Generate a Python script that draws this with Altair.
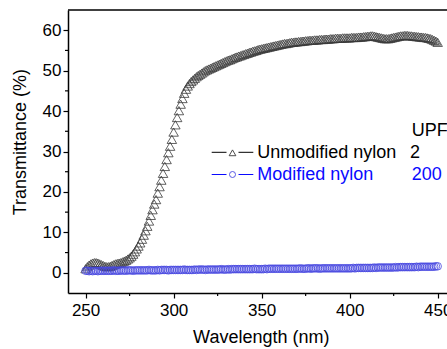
import altair as alt
import pandas as pd

# ---------------- data ----------------
wavelength = list(range(250, 451))

unmodified = [
    1.0, 1.5, 1.9, 2.2, 2.4, 2.5, 2.5, 2.4, 2.2, 2.0,
    1.8, 1.6, 1.5, 1.5, 1.6, 1.8, 2.0, 2.2, 2.3, 2.4,
    2.5, 2.7, 2.9, 3.1, 3.4, 3.7, 4.1, 4.6, 5.2, 5.9,
    6.6, 7.4, 8.3, 9.3, 10.4, 11.5, 12.8, 14.2, 15.6, 17.0,
    18.1, 19.7, 21.3, 22.9, 24.6, 26.3, 28.0, 29.7, 31.3, 33.0,
    34.8, 36.6, 38.4, 40.1, 41.7, 43.1, 44.4, 45.4, 46.2, 46.8,
    47.3, 47.7, 48.1, 48.5, 48.8, 49.1, 49.4, 49.7, 50.0, 50.2,
    50.4, 50.6, 50.8, 51.0, 51.2, 51.4, 51.6, 51.8, 52.0, 52.2,
    52.4, 52.6, 52.7, 52.9, 53.1, 53.3, 53.4, 53.6, 53.7, 53.9,
    54.0, 54.2, 54.3, 54.5, 54.6, 54.8, 54.9, 55.0, 55.2, 55.3,
    55.4, 55.5, 55.6, 55.7, 55.8, 55.9, 56.0, 56.1, 56.2, 56.3,
    56.4, 56.5, 56.6, 56.7, 56.7, 56.8, 56.9, 57.0, 57.0, 57.1,
    57.1, 57.2, 57.2, 57.3, 57.3, 57.4, 57.4, 57.5, 57.5, 57.5,
    57.6, 57.6, 57.6, 57.7, 57.7, 57.7, 57.8, 57.8, 57.8, 57.9,
    57.9, 57.9, 58.0, 58.0, 58.0, 58.0, 58.1, 58.1, 58.1, 58.1,
    58.1, 58.2, 58.2, 58.2, 58.2, 58.3, 58.3, 58.3, 58.4, 58.4,
    58.5, 58.5, 58.6, 58.6, 58.5, 58.4, 58.3, 58.2, 58.1, 58.0,
    57.9, 57.9, 57.9, 58.0, 58.1, 58.2, 58.3, 58.4, 58.5, 58.6,
    58.6, 58.7, 58.7, 58.7, 58.6, 58.6, 58.5, 58.5, 58.4, 58.4,
    58.3, 58.3, 58.2, 58.2, 58.1, 58.0, 57.9, 57.7, 57.5, 57.3,
    57.0,
]

modified = [
    0.5, 0.5, 0.4, 0.5, 0.4, 0.5, 0.5, 0.4, 0.5, 0.5,
    0.5, 0.5, 0.5, 0.5, 0.5, 0.5, 0.6, 0.5, 0.5, 0.5,
    0.6, 0.5, 0.6, 0.5, 0.6, 0.6, 0.6, 0.5, 0.6, 0.6,
    0.6, 0.6, 0.6, 0.6, 0.6, 0.6, 0.7, 0.6, 0.6, 0.6,
    0.6, 0.7, 0.6, 0.7, 0.7, 0.7, 0.7, 0.6, 0.7, 0.7,
    0.7, 0.7, 0.7, 0.7, 0.7, 0.7, 0.8, 0.7, 0.7, 0.7,
    0.7, 0.7, 0.8, 0.7, 0.8, 0.8, 0.8, 0.8, 0.7, 0.8,
    0.8, 0.8, 0.8, 0.8, 0.8, 0.8, 0.8, 0.9, 0.8, 0.8,
    0.8, 0.9, 0.8, 0.9, 0.9, 0.9, 0.9, 0.9, 0.9, 0.9,
    0.9, 0.9, 0.9, 0.9, 0.9, 0.9, 1.0, 0.9, 0.9, 0.9,
    0.9, 0.9, 1.0, 0.9, 1.0, 1.0, 1.0, 1.0, 1.0, 1.0,
    1.0, 1.0, 1.0, 1.0, 1.0, 1.0, 1.0, 1.0, 1.0, 1.0,
    1.0, 1.0, 1.1, 1.0, 1.0, 1.0, 1.1, 1.1, 1.0, 1.1,
    1.1, 1.1, 1.1, 1.0, 1.1, 1.1, 1.1, 1.1, 1.1, 1.1,
    1.1, 1.1, 1.1, 1.1, 1.1, 1.1, 1.1, 1.1, 1.1, 1.1,
    1.1, 1.1, 1.2, 1.1, 1.2, 1.2, 1.2, 1.2, 1.2, 1.2,
    1.2, 1.2, 1.2, 1.2, 1.3, 1.2, 1.3, 1.3, 1.3, 1.3,
    1.3, 1.3, 1.3, 1.3, 1.3, 1.3, 1.4, 1.3, 1.4, 1.4,
    1.4, 1.4, 1.4, 1.4, 1.4, 1.4, 1.4, 1.4, 1.5, 1.4,
    1.5, 1.5, 1.5, 1.5, 1.5, 1.5, 1.5, 1.5, 1.5, 1.6,
    1.6,
]

series_names = ["Unmodified nylon", "Modified nylon"]
upf_header = "UPF"
upf_values = ["2", "200"]

x_major = [250, 300, 350, 400, 450]
x_minor = [275, 325, 375, 425]
y_major = [0, 10, 20, 30, 40, 50, 60]
y_minor = [5, 15, 25, 35, 45, 55]

BLACK = "#000000"
MARK_BLACK = "#3a3a3a"
MARK_BLUE = "#4848e0"
TEXT_BLUE = "#0a0aff"
FONT = "Liberation Sans"

W, H = 379, 283

df_un = pd.DataFrame({"wl": wavelength, "T": unmodified})
df_mod = pd.DataFrame({"wl": wavelength, "T": modified})

xscale = alt.Scale(domain=[240, 455.3], nice=False, zero=False)
yscale = alt.Scale(domain=[-5, 65], nice=False, zero=False)

x_axis = alt.Axis(
    values=x_major, title="Wavelength (nm)", grid=False,
    tickSize=5, tickWidth=1.2, tickColor=BLACK,
    domainColor=BLACK, domainWidth=1.5,
    labelFont=FONT, labelFontSize=17, labelColor=BLACK, labelPadding=4,
    labelFlush=False, labelOverlap=False,
    titleFont=FONT, titleFontSize=18, titleFontWeight="normal", titleColor=BLACK,
    titleX=192.8, titleY=44, titleBaseline="middle", titleAlign="center",
)
y_axis = alt.Axis(
    values=y_major, title="Transmittance (%)", grid=False,
    tickSize=5, tickWidth=1.2, tickColor=BLACK,
    domainColor=BLACK, domainWidth=1.5,
    labelFont=FONT, labelFontSize=17, labelColor=BLACK, labelPadding=2,
    labelFlush=False, labelOverlap=False,
    titleFont=FONT, titleFontSize=18, titleFontWeight="normal", titleColor=BLACK,
    titleX=-48, titleY=131.6, titleBaseline="middle", titleAlign="center", titleAngle=-90,
)

X = alt.X("wl:Q", scale=xscale, axis=x_axis)
Y = alt.Y("T:Q", scale=yscale, axis=y_axis)

pts_un = alt.Chart(df_un).mark_point(
    shape="triangle-up", filled=False, color=MARK_BLACK, strokeWidth=0.8, size=90, opacity=1
).encode(x=X, y=Y)

pts_mod = alt.Chart(df_mod).mark_point(
    shape="circle", filled=False, color=MARK_BLUE, strokeWidth=0.8, size=58, opacity=1
).encode(x=X, y=Y)

# minor ticks
minor_y = alt.Chart(pd.DataFrame({"T": y_minor})).mark_rule(color=BLACK, strokeWidth=1.2).encode(
    y=Y, x=alt.value(-3), x2=alt.value(0)
)
minor_x = alt.Chart(pd.DataFrame({"wl": x_minor})).mark_rule(color=BLACK, strokeWidth=1.2).encode(
    x=X, y=alt.value(H), y2=alt.value(H + 3)
)

# top border
top = alt.Chart(pd.DataFrame({"a": [0]})).mark_rule(color=BLACK, strokeWidth=1.5).encode(
    x=alt.value(0), x2=alt.value(W), y=alt.value(0)
)

# legend
def seg(x1, x2, y, color):
    return alt.Chart(pd.DataFrame({"a": [0]})).mark_rule(color=color, strokeWidth=1).encode(
        x=alt.value(x1), x2=alt.value(x2), y=alt.value(y)
    )

def sym(x, y, shape, color, size):
    return alt.Chart(pd.DataFrame({"a": [0]})).mark_point(
        shape=shape, filled=False, color=color, strokeWidth=0.9, size=size, opacity=1
    ).encode(x=alt.value(x), y=alt.value(y))

def txt(label, x, y, color):
    return alt.Chart(pd.DataFrame({"t": [label]})).mark_text(
        align="left", baseline="alphabetic", font=FONT, fontSize=18, color=color
    ).encode(x=alt.value(x), y=alt.value(y), text="t:N")

r1, r2 = 142.3, 164.5
legend = [
    seg(143.7, 158.5, r1, BLACK), sym(164.5, r1 + 0.5, "triangle-up", MARK_BLACK, 45), seg(170.5, 185.3, r1, BLACK),
    seg(143.7, 158.5, r2, TEXT_BLUE), sym(164.5, r2, "circle", MARK_BLUE, 36), seg(170.5, 185.3, r2, TEXT_BLUE),
    txt(series_names[0], 189.3, 148.3, BLACK),
    txt(series_names[1], 189.3, 170.0, TEXT_BLUE),
    txt(upf_header, 343.7, 126.0, BLACK),
    txt(upf_values[0], 342.0, 148.3, BLACK),
    txt(upf_values[1], 343.7, 170.0, TEXT_BLUE),
]

chart = alt.layer(
    pts_un, pts_mod, minor_y, minor_x, top, *legend
).properties(
    width=W, height=H,
    autosize=alt.AutoSizeParams(type="none"),
    padding={"left": 68, "top": 10, "right": 0, "bottom": 56},
    background="white",
).configure_view(stroke=None)

chart.save("out.html", embed_options={"renderer": "svg", "actions": False})
